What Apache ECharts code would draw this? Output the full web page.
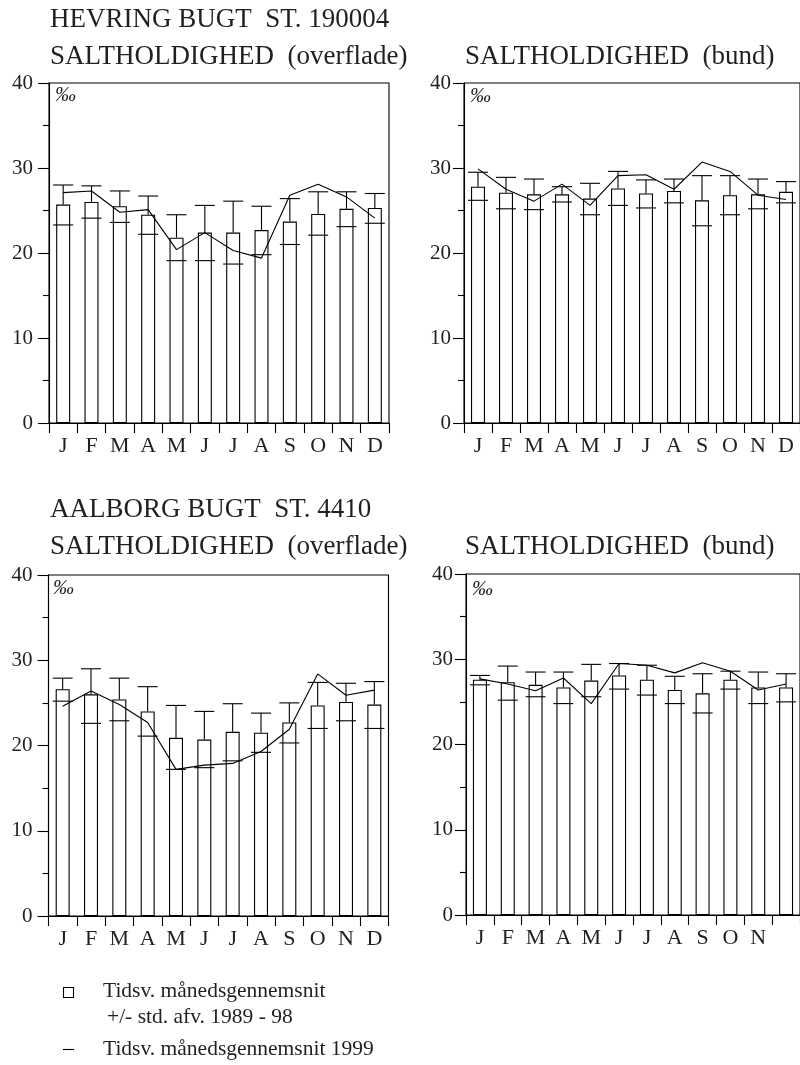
<!DOCTYPE html>
<html>
<head>
<meta charset="utf-8">
<script src="https://cdn.jsdelivr.net/npm/echarts@6/dist/echarts.min.js"></script>
<style>
  html, body { margin: 0; padding: 0; background: #fff; }
  #chart { width: 800px; height: 1065px; }
</style>
</head>
<body>
<div id="chart"></div>
<script>
const months = ['J','F','M','A','M','J','J','A','S','O','N','D'];

// Hevring Bugt St. 190004 - surface
const hevSurfMean = [25.7,26.0,25.5,24.5,21.8,22.4,22.4,22.7,23.7,24.6,25.2,25.3];
const hevSurfHigh = [28.0,27.9,27.3,26.7,24.5,25.6,26.1,25.5,26.4,27.2,27.2,27.0];
const hevSurfLow  = [23.3,24.1,23.6,22.2,19.1,19.1,18.7,19.8,21.0,22.1,23.1,23.5];
const hevSurf1999 = [27.1,27.3,24.8,25.1,20.4,22.4,20.3,19.4,26.8,28.1,26.6,24.1];

// Hevring Bugt St. 190004 - bottom
const hevBotMean = [27.8,27.1,26.9,26.9,26.4,27.6,27.0,27.3,26.2,26.8,26.9,27.2];
const hevBotHigh = [29.5,28.9,28.7,27.8,28.2,29.6,28.6,28.7,29.1,29.1,28.7,28.4];
const hevBotLow  = [26.2,25.2,25.1,26.0,24.5,25.6,25.3,25.9,23.2,24.5,25.2,25.9];
const hevBot1999 = [29.9,27.5,26.1,28.1,25.6,29.1,29.2,27.5,30.7,29.6,26.8,26.3];

// Aalborg Bugt St. 4410 - surface
const aalSurfMean = [26.6,26.0,25.4,24.0,20.9,20.7,21.6,21.5,22.7,24.7,25.1,24.8];
const aalSurfHigh = [27.9,29.0,27.9,26.9,24.7,24.0,24.9,23.8,25.0,27.4,27.3,27.5];
const aalSurfLow  = [25.2,22.6,22.9,21.1,17.2,17.4,18.2,19.2,20.3,22.0,22.9,22.0];
const aalSurf1999 = [24.6,26.4,24.8,22.7,17.2,17.7,17.9,19.3,21.9,28.4,25.9,26.5];

// Aalborg Bugt St. 4410 - bottom
const aalBotMean = [27.6,27.3,27.0,26.7,27.5,28.1,27.6,26.4,26.0,27.6,26.7,26.7];
const aalBotHigh = [28.1,29.2,28.5,28.5,29.4,29.5,29.3,28.0,28.3,28.6,28.5,28.3];
const aalBotLow  = [27.0,25.2,25.6,24.8,25.6,26.5,25.8,24.8,23.7,26.5,24.8,25.0];
const aalBot1999 = [27.7,27.1,26.3,27.8,24.8,29.5,29.3,28.4,29.6,28.6,26.4,27.1];

const yTicks = [0, 10, 20, 30, 40];

const FONT = '"Liberation Serif", "Times New Roman", serif';
const INK = '#231f20';

const panels = [
  { grid: { left: 49, top: 83, width: 340, height: 340 }, mean: hevSurfMean, high: hevSurfHigh, low: hevSurfLow, cur: hevSurf1999, labelMargin: 16, hideLast: false },
  { grid: { left: 464, top: 83, width: 340, height: 340 }, mean: hevBotMean, high: hevBotHigh, low: hevBotLow, cur: hevBot1999, labelMargin: 13, hideLast: false },
  { grid: { left: 48.5, top: 575, width: 340, height: 341 }, mean: aalSurfMean, high: aalSurfHigh, low: aalSurfLow, cur: aalSurf1999, labelMargin: 16, hideLast: false },
  { grid: { left: 466, top: 574, width: 340, height: 341 }, mean: aalBotMean, high: aalBotHigh, low: aalBotLow, cur: aalBot1999, labelMargin: 13, hideLast: true }
];

function errRender(params, api) {
  const x = api.value(0);
  const pM = api.coord([x, api.value(1)]);
  const pH = api.coord([x, api.value(2)]);
  const pL = api.coord([x, api.value(3)]);
  const hw = 10;
  const st = { stroke: '#000', lineWidth: 1.1 };
  return {
    type: 'group',
    children: [
      { type: 'line', shape: { x1: pM[0], y1: pM[1], x2: pH[0], y2: pH[1] }, style: st },
      { type: 'line', shape: { x1: pH[0] - hw, y1: pH[1], x2: pH[0] + hw, y2: pH[1] }, style: st },
      { type: 'line', shape: { x1: pL[0] - hw, y1: pL[1], x2: pL[0] + hw, y2: pL[1] }, style: st }
    ]
  };
}

const grids = [], xAxes = [], yAxes = [], series = [];
panels.forEach((p, g) => {
  grids.push(Object.assign({ show: true, borderColor: '#000', borderWidth: 1.1, backgroundColor: 'transparent' }, p.grid));
  xAxes.push({
    type: 'category', gridIndex: g, data: months, boundaryGap: true,
    axisLine: { show: true, lineStyle: { color: '#000', width: 1.1 } },
    axisTick: { show: true, alignWithLabel: false, length: 10, lineStyle: { color: '#000', width: 1.1 } },
    axisLabel: {
      interval: 0, margin: 12, fontFamily: FONT, fontSize: 22, color: INK,
      formatter: (v, i) => (p.hideLast && i === months.length - 1) ? '' : v
    },
    splitLine: { show: false }
  });
  yAxes.push({
    type: 'value', gridIndex: g, min: yTicks[0], max: yTicks[yTicks.length - 1], interval: yTicks[1] - yTicks[0],
    axisLine: { show: true, lineStyle: { color: '#000', width: 1.1 } },
    axisTick: { show: true, length: 11, lineStyle: { color: '#000', width: 1.1 } },
    minorTick: { show: true, splitNumber: 2, length: 6, lineStyle: { color: '#000', width: 1.1 } },
    splitLine: { show: false },
    axisLabel: { margin: p.labelMargin, fontFamily: FONT, fontSize: 21, color: INK }
  });
  series.push({
    type: 'bar', xAxisIndex: g, yAxisIndex: g, data: p.mean, barWidth: 14, z: 2,
    itemStyle: { color: '#fff', borderColor: '#000', borderWidth: 1.1 }, silent: true
  });
  series.push({
    type: 'custom', xAxisIndex: g, yAxisIndex: g, z: 3, silent: true,
    renderItem: errRender,
    encode: { x: 0, y: [1, 2, 3] },
    data: p.mean.map((m, i) => [i, m, p.high[i], p.low[i]])
  });
  series.push({
    type: 'line', xAxisIndex: g, yAxisIndex: g, data: p.cur, z: 4, symbol: 'none', silent: true,
    lineStyle: { color: '#000', width: 1.1 }
  });
});

function txt(x, y, text, size, extra) {
  return {
    type: 'text', z: 10, silent: true,
    style: Object.assign({
      x: x, y: y, text: text,
      font: size + 'px ' + FONT, fill: INK,
      textAlign: 'left', textVerticalAlign: 'middle'
    }, extra || {})
  };
}

const graphics = [
  txt(50, 20, 'HEVRING BUGT  ST. 190004', 27),
  txt(50, 57, 'SALTHOLDIGHED  (overflade)', 27),
  txt(465, 57, 'SALTHOLDIGHED  (bund)', 27),
  txt(50, 510, 'AALBORG BUGT  ST. 4410', 27),
  txt(50, 547, 'SALTHOLDIGHED  (overflade)', 27),
  txt(465, 547, 'SALTHOLDIGHED  (bund)', 27),
  txt(55, 95, '‰', 21, { font: 'italic 21px ' + FONT }),
  txt(470, 96, '‰', 21, { font: 'italic 21px ' + FONT }),
  txt(53, 588, '‰', 21, { font: 'italic 21px ' + FONT }),
  txt(472, 589, '‰', 21, { font: 'italic 21px ' + FONT }),
  { type: 'rect', z: 10, silent: true, shape: { x: 63.5, y: 987.5, width: 10, height: 10 }, style: { fill: '#fff', stroke: '#000', lineWidth: 1.1 } },
  txt(103, 991, 'Tidsv. månedsgennemsnit', 21.5),
  txt(107, 1017, '+/- std. afv. 1989 - 98', 21.5),
  { type: 'line', z: 10, silent: true, shape: { x1: 63, y1: 1049.5, x2: 74, y2: 1049.5 }, style: { stroke: '#000', lineWidth: 1.1 } },
  txt(103, 1049, 'Tidsv. månedsgennemsnit 1999', 21.5)
];

const chart = echarts.init(document.getElementById('chart'), null, { renderer: 'canvas' });
chart.setOption({
  animation: false,
  backgroundColor: '#fff',
  grid: grids,
  xAxis: xAxes,
  yAxis: yAxes,
  series: series,
  graphic: graphics
});
</script>
</body>
</html>
